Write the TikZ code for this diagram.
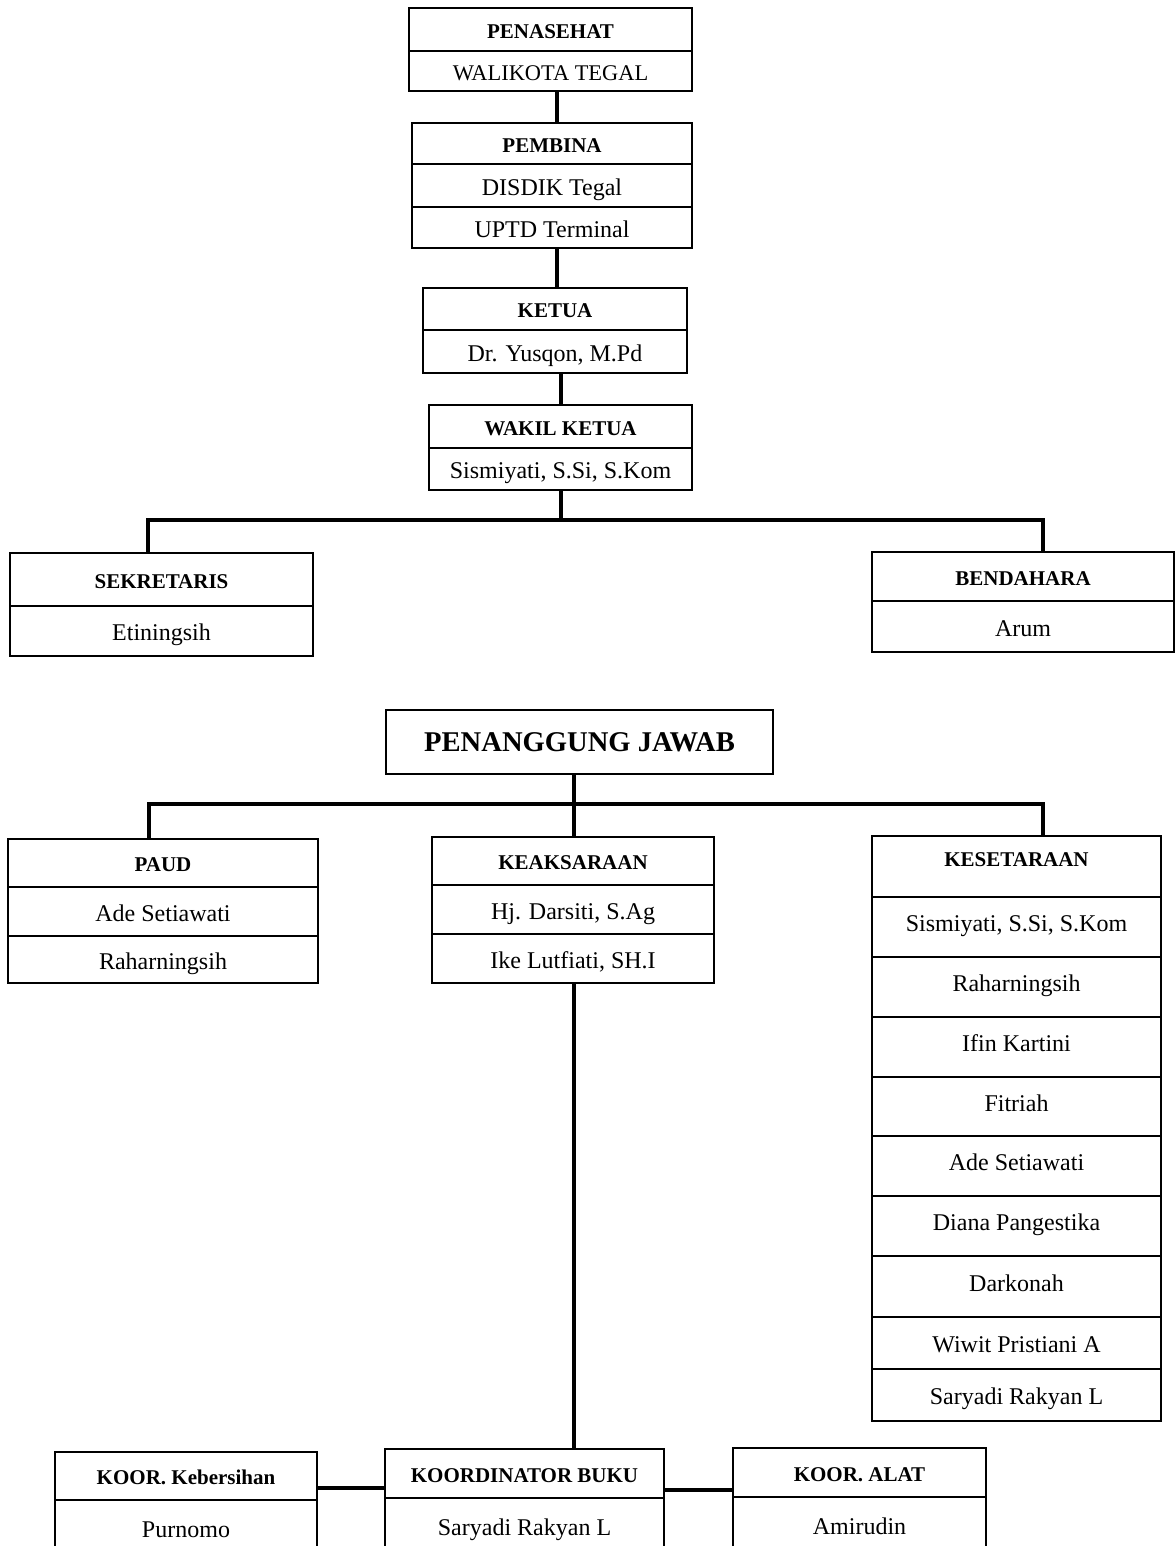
\documentclass[tikz,border=0pt]{standalone}
\usepackage{fontspec}
\setmainfont{Liberation Serif}
\begin{document}
\begin{tikzpicture}[x=0.5pt,y=-0.5pt,
  cell/.style={draw, line width=1pt, inner sep=0pt, font=\fontsize{12}{14}\selectfont, text height=11.1pt, text depth=1.35pt},
  kcell/.style={cell, text height=11.1pt, text depth=6.3pt},
  head/.style={cell, font=\bfseries\fontsize{10.5}{12}\selectfont, text height=10.1pt, text depth=1.2pt},
  htext/.style={inner sep=0pt, font=\bfseries\fontsize{10.5}{12}\selectfont},
  conn/.style={line width=1.8pt, line join=miter}]
\useasboundingbox (0,0) rectangle (1176,1546);
\clip (0,0) rectangle (1176,1546);

% PENASEHAT
\node[head, minimum width=141.5pt, minimum height=21.5pt] (pen1) at (550.5,29.5) {PENASEHAT};
\node[cell, minimum width=141.5pt, minimum height=20pt, font=\fontsize{11.2}{13}\selectfont] (pen2) at (550.5,71) {WALIKOTA TEGAL};
% PEMBINA
\node[head, minimum width=140pt, minimum height=20.5pt] (pem1) at (552,143.5) {PEMBINA};
\node[cell, minimum width=140pt, minimum height=21.5pt] (pem2) at (552,185.5) {DISDIK Tegal};
\node[cell, minimum width=140pt, minimum height=20.5pt] (pem3) at (552,227.5) {UPTD Terminal};
% KETUA
\node[head, minimum width=132pt, minimum height=21pt] (ket1) at (555,309) {KETUA};
\node[cell, minimum width=132pt, minimum height=21.5pt] (ket2) at (555,351.5) {Dr. Yusqon, M.Pd};
% WAKIL KETUA
\node[head, minimum width=131.5pt, minimum height=21.5pt] (wak1) at (560.5,426.5) {WAKIL KETUA};
\node[cell, minimum width=131.5pt, minimum height=21pt] (wak2) at (560.5,469) {Sismiyati, S.Si, S.Kom};
% SEKRETARIS
\node[head, minimum width=151.5pt, minimum height=26.5pt] (sek1) at (161.5,579.5) {SEKRETARIS};
\node[cell, minimum width=151.5pt, minimum height=25pt] (sek2) at (161.5,631) {Etiningsih};
% BENDAHARA
\node[head, minimum width=151pt, minimum height=24.5pt] (ben1) at (1023,576.5) {BENDAHARA};
\node[cell, minimum width=151pt, minimum height=25.5pt] (ben2) at (1023,626.5) {Arum};

% PENANGGUNG JAWAB
\node[cell, line width=1.4pt, minimum width=193.5pt, minimum height=32pt, font=\bfseries\fontsize{14.3}{17}\selectfont] (pj) at (579.5,742) {PENANGGUNG JAWAB};
% PAUD
\node[head, minimum width=155pt, minimum height=24pt] (pau1) at (163,863) {PAUD};
\node[cell, minimum width=155pt, minimum height=24.5pt] (pau2) at (163,911.5) {Ade Setiawati};
\node[cell, minimum width=155pt, minimum height=23.5pt] (pau3) at (163,959.5) {Raharningsih};
% KEAKSARAAN
\node[head, minimum width=141pt, minimum height=24pt] (kea1) at (573,861) {KEAKSARAAN};
\node[cell, minimum width=141pt, minimum height=24.5pt] (kea2) at (573,909.5) {Hj. Darsiti, S.Ag};
\node[cell, minimum width=141pt, minimum height=24.5pt] (kea3) at (573,958.5) {Ike Lutfiati, SH.I};
% KESETARAAN
\node[head, minimum width=144.5pt, minimum height=30.5pt] (kes0) at (1016.5,866.5) {};
\node[htext] (kes0t) at (1016.5,860) {KESETARAAN};
\node[kcell, minimum width=144.5pt, minimum height=30pt] (kes1) at (1016.5,927) {Sismiyati, S.Si, S.Kom};
\node[kcell, minimum width=144.5pt, minimum height=30pt] (kes2) at (1016.5,987) {Raharningsih};
\node[kcell, minimum width=144.5pt, minimum height=30pt] (kes3) at (1016.5,1047) {Ifin Kartini};
\node[kcell, minimum width=144.5pt, minimum height=29.5pt] (kes4) at (1016.5,1106.5) {Fitriah};
\node[kcell, minimum width=144.5pt, minimum height=30pt] (kes5) at (1016.5,1166) {Ade Setiawati};
\node[kcell, minimum width=144.5pt, minimum height=30pt] (kes6) at (1016.5,1226) {Diana Pangestika};
\node[kcell, minimum width=144.5pt, minimum height=30.5pt] (kes7) at (1016.5,1286.5) {Darkonah};
\node[cell, minimum width=144.5pt, minimum height=26pt] (kes8) at (1016.5,1343) {Wiwit Pristiani A};
\node[cell, minimum width=144.5pt, minimum height=26pt] (kes9) at (1016.5,1395) {Saryadi Rakyan L};

% bottom row
\node[head, minimum width=131pt, minimum height=24pt] (keb1) at (186,1476) {KOOR. Kebersihan};
\node[cell, minimum width=131pt, minimum height=28pt] (keb2) at (186,1528) {Purnomo};
\node[head, minimum width=139.5pt, minimum height=24.5pt] (koo1) at (524.5,1473.5) {KOORDINATOR BUKU};
\node[cell, minimum width=139.5pt, minimum height=28pt] (koo2) at (524.5,1526) {Saryadi Rakyan L};
\node[head, minimum width=126.5pt, minimum height=24.5pt] (ala1) at (859.5,1472.5) {KOOR. ALAT};
\node[cell, minimum width=126.5pt, minimum height=28pt] (ala2) at (859.5,1525) {Amirudin};

% helper coordinates
\coordinate (x557) at (557,0);
\coordinate (x561) at (561,0);
\coordinate (x574) at (574,0);
\coordinate (b1L) at (148,520);
\coordinate (b1R) at (1043,520);
\coordinate (b2L) at (149,804);
\coordinate (b2R) at (1043,804);
\coordinate (h1) at (0,1488);
\coordinate (h2) at (0,1490);

% connectors
\draw[conn] (pen2.south -| x557) -- (pem1.north -| x557);
\draw[conn] (pem3.south -| x557) -- (ket1.north -| x557);
\draw[conn] (ket2.south -| x561) -- (wak1.north -| x561);
\draw[conn] (wak2.south -| x561) -- (b1L -| x561);
\draw[conn] (sek1.north -| b1L) -- (b1L) -- (b1R) -- (ben1.north -| b1R);

\draw[conn] (pj.south -| x574) -- (kea1.north -| x574);
\draw[conn] (pau1.north -| b2L) -- (b2L) -- (b2R) -- (kes0.north -| b2R);
\draw[conn] (kea3.south -| x574) -- (koo1.north -| x574);
\draw[conn] (keb1.east |- h1) -- (koo1.west |- h1);
\draw[conn] (koo1.east |- h2) -- (ala1.west |- h2);
\end{tikzpicture}
\end{document}
